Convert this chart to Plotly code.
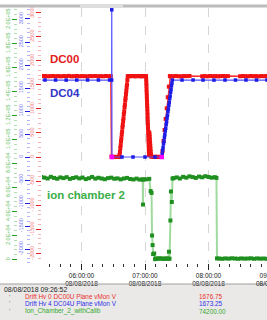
import pandas as pd
import plotly.graph_objects as go

DAY = "2018-08-08 "

# ---------------- data ----------------
dc00_time = [
    "05:22:00", "05:23:00", "05:25:30", "05:28:00", "05:30:30", "05:33:00", "05:35:30", "05:38:00",
    "05:40:30", "05:43:00", "05:45:30", "05:48:00", "05:50:30", "05:53:00", "05:55:30", "05:58:00",
    "06:00:30", "06:03:00", "06:05:30", "06:08:00", "06:10:30", "06:13:00", "06:15:30", "06:18:00",
    "06:20:30", "06:23:00", "06:25:30", "06:27:40",
    "06:28:20", "06:29:45", "06:31:15", "06:32:45", "06:34:15", "06:35:20",
    "06:35:40", "06:36:00", "06:36:20", "06:36:40", "06:37:00", "06:37:20", "06:37:40", "06:38:00",
    "06:38:20", "06:38:40", "06:39:00", "06:39:20", "06:39:40", "06:40:00", "06:40:20", "06:40:40",
    "06:41:00", "06:41:20", "06:41:40", "06:42:00", "06:42:20", "06:42:40", "06:43:00", "06:43:20",
    "06:43:40",
    "06:44:30", "06:46:00", "06:47:30", "06:49:00", "06:50:30", "06:52:00", "06:53:30", "06:55:00",
    "06:56:30", "06:58:00", "06:59:30", "07:00:40",
    "07:01:00", "07:01:07", "07:01:14", "07:01:21", "07:01:28", "07:01:35", "07:01:42", "07:01:49",
    "07:01:56", "07:02:03", "07:02:10", "07:02:17", "07:02:24", "07:02:31", "07:02:38", "07:02:45",
    "07:02:52", "07:02:59", "07:03:06", "07:03:13", "07:03:20", "07:03:27", "07:03:34", "07:03:41",
    "07:03:48",
    "07:04:00", "07:04:12", "07:04:24", "07:04:36", "07:04:48", "07:05:00", "07:05:12", "07:05:24",
    "07:05:36", "07:05:48",
    "07:07:00", "07:08:30", "07:10:00", "07:11:30", "07:13:00", "07:14:30", "07:15:40",
    "07:16:30", "07:17:30", "07:18:30", "07:19:30", "07:20:30", "07:21:30", "07:22:30", "07:23:30",
    "07:24:00", "07:26:30", "07:29:00", "07:31:30", "07:34:00", "07:36:30", "07:39:00", "07:42:00",
    "07:54:00", "07:56:30", "07:59:00", "08:01:30", "08:04:00", "08:06:30", "08:09:00", "08:11:00",
    "08:13:50", "08:16:00", "08:18:20",
    "08:29:50", "08:32:20", "08:34:50", "08:37:20", "08:39:50", "08:42:20", "08:44:50", "08:47:20",
    "08:49:50", "08:52:20", "08:54:50", "08:57:00",
]
dc00_val = [
    1678, 1676, 1680, 1674, 1677, 1681, 1675, 1678,
    1673, 1679, 1676, 1682, 1674, 1677, 1680, 1675,
    1678, 1676, 1673, 1679, 1677, 1681, 1675, 1678,
    1674, 1680, 1676, 1677,
    8, 2, 0, 5, 0, 3,
    6, 45, 105, 185, 245, 325, 385, 465,
    525, 610, 665, 745, 805, 890, 945, 1030,
    1085, 1170, 1225, 1305, 1370, 1445, 1505, 1595,
    1676,
    1679, 1675, 1678, 1681, 1674, 1677, 1680, 1676,
    1673, 1679, 1677, 1675,
    1676, 1610, 1540, 1475, 1400, 1335, 1265, 1200,
    1130, 1060, 995, 925, 860, 790, 720, 655,
    585, 515, 450, 380, 315, 245, 175, 110,
    40,
    510, 470, 420, 360, 300, 235, 170, 110,
    50, 10,
    4, 0, 6, 2, 0, 5, 1,
    120, 330, 560, 790, 1010, 1240, 1460, 1676,
    1678, 1675, 1680, 1676, 1673, 1679, 1677, 1681,
    1675, 1678, 1674, 1680, 1676, 1679, 1673, 1677,
    1680, 1676, 1678,
    1675, 1679, 1677, 1674, 1680, 1676, 1678, 1673,
    1679, 1676, 1681, 1677,
]

dc04_time = [
    "05:20:00", "05:25:30", "05:35:30", "05:45:30", "05:55:30", "06:05:45", "06:16:00", "06:26:30",
    "06:28:30", "06:28:35", "06:28:45",
    "06:38:15", "06:48:40", "07:00:00", "07:09:25",
    "07:15:50",
    "07:16:15", "07:16:40", "07:17:05", "07:17:30", "07:17:55", "07:18:20", "07:18:45", "07:19:10",
    "07:19:35", "07:20:00", "07:20:25", "07:20:50", "07:21:15", "07:21:40", "07:22:05", "07:22:30",
    "07:22:55", "07:23:20", "07:23:45", "07:24:10", "07:24:35", "07:25:00", "07:25:25", "07:25:50",
    "07:35:00", "07:45:25", "07:54:50", "08:05:10", "08:15:35", "08:25:30", "08:35:25", "08:45:20",
    "08:55:15", "09:05:00",
]
dc04_val = [
    1673, 1674, 1673, 1672, 1673, 1674, 1673, 1673,
    1673, 3200, 0,
    0, 0, 0, 0,
    0,
    65, 145, 205, 285, 345, 425, 485, 565,
    625, 705, 765, 845, 905, 985, 1045, 1125,
    1185, 1265, 1325, 1405, 1465, 1545, 1605, 1673,
    1673, 1674, 1673, 1672, 1673, 1673, 1674, 1673,
    1673, 1673,
]

overlap_time = ["06:28:45", "07:15:50"]
overlap_val = [0, 0]

ion_time = [
    "05:22:00", "05:25:00", "05:28:00", "05:31:00", "05:34:00", "05:37:00", "05:40:00", "05:43:00",
    "05:46:00", "05:49:00", "05:52:00", "05:55:00", "05:58:00", "06:01:00", "06:04:00", "06:07:00",
    "06:10:00", "06:13:00", "06:16:00", "06:19:00", "06:22:00", "06:25:00", "06:28:00", "06:31:00",
    "06:34:00", "06:37:00", "06:40:00", "06:43:00", "06:46:00", "06:49:00", "06:52:00", "06:55:00",
    "06:57:50", "06:58:05", "06:58:20", "07:01:00", "07:04:00",
    "07:05:20", "07:06:10", "07:06:40", "07:07:10", "07:07:40", "07:08:40", "07:09:30",
    "07:10:30", "07:12:00", "07:13:30", "07:15:00", "07:16:30", "07:18:00", "07:19:30", "07:21:00",
    "07:22:00",
    "07:22:40", "07:23:10",
    "07:24:00", "07:24:30", "07:25:20", "07:26:00",
    "07:27:00", "07:30:00", "07:33:00", "07:36:00", "07:39:00", "07:42:00", "07:45:00", "07:48:00",
    "07:51:00", "07:54:00", "07:57:00", "08:00:00", "08:03:00", "08:06:00",
    "08:07:30", "08:08:00",
    "08:10:00", "08:13:00", "08:16:00", "08:19:00", "08:22:00", "08:25:00", "08:28:00", "08:31:00",
    "08:34:00", "08:37:00", "08:40:00", "08:43:00", "08:46:00", "08:49:00", "08:52:00", "08:55:00",
    "08:58:00",
]
ion_val = [
    68700, 68200, 67500, 68900, 68000, 67300, 68400, 67800,
    68600, 67200, 67900, 68500, 67600, 68300, 67000, 67700,
    68800, 67400, 68100, 67500, 66900, 67800, 68200, 67300,
    67600, 66800, 67500, 68000, 67100, 66700, 67400, 66600,
    66900, 45800, 66500, 66800, 67200,
    57000, 55500, 20000, 12000, 4500, 5000, 300,
    900, 600, 1000, 700, 800, 500, 900, 700,
    600,
    6500, 700,
    32500, 56700, 47900, 67500,
    67800, 68400, 67500, 68900, 68200, 69300, 68700, 68000,
    69100, 68500, 69400, 68800, 68200, 68600,
    68000, 900,
    800, 600, 900, 700, 1000, 800, 600, 900,
    700, 800, 1000, 600, 900, 700, 800, 600,
    900,
]

red_ticks = [-2000, -1500, -1000, -500, 0, 500, 1000, 1500, 2000, 2500, 3000]
blue_ticks = [-2000, -1500, -1000, -500, 0, 500, 1000, 1500, 2000, 2500, 3000]
green_ticks = [0, 20000, 40000, 60000, 80000, 100000, 120000, 140000, 160000, 180000, 200000]
green_tick_text = ["0", "2.0E+04", "4.0E+04", "6.0E+04", "8.0E+04", "1.0E+05",
                   "1.2E+05", "1.4E+05", "1.6E+05", "1.8E+05", "2.0E+05"]

series_labels = ["DC00", "DC04", "ion chamber 2"]
legend_stamp = "08/08/2018 09:26:52"
legend_names = ["Drift Hv 0 DC00U Plane vMon V", "Drift Hv 4 DC04U Plane vMon V", "Ion_Chamber_2_withCalib"]
legend_values = ["1676.75", "1673.25", "74200.00"]

x_start = pd.Timestamp(DAY + "05:22:40")
x_end = pd.Timestamp(DAY + "08:55:16")
cut_tick = pd.Timestamp(DAY + "09:00:00")

RED, GREEN = "#e41c1c", "#1f8f1f"
FONT = "Liberation Sans"

W, H = 267, 320
L_PX, T_PX, B_PX = 42, 8, 263


def ts(lst):
    return pd.to_datetime([DAY + t for t in lst])


def px_x(px):
    return px / W


def px_y(py):
    return (B_PX - py) / (B_PX - T_PX)


fig = go.Figure()
fig.add_trace(go.Scatter(
    x=ts(ion_time), y=ion_val, yaxis="y3", mode="lines+markers",
    line=dict(color="rgba(80,190,80,0.55)", width=2),
    marker=dict(color=GREEN, size=4, symbol="square", line=dict(width=0)),
))
fig.add_trace(go.Scatter(
    x=ts(dc00_time), y=dc00_val, yaxis="y", mode="lines+markers",
    line=dict(color="#ff3030", width=1.5),
    marker=dict(color="#f01212", size=4, symbol="square", line=dict(width=0)),
))
fig.add_trace(go.Scatter(
    x=ts(dc04_time), y=dc04_val, yaxis="y2", mode="lines+markers",
    line=dict(color="#5050ff", width=1.2),
    marker=dict(color="#1c1ce6", size=3.5, symbol="square", line=dict(width=0)),
))
fig.add_trace(go.Scatter(
    x=ts(overlap_time), y=overlap_val, yaxis="y2", mode="markers",
    marker=dict(color="#ff00ff", size=4.5, symbol="square", line=dict(width=0)),
))


def yaxis_cfg(rng, vals, text, tickcol, labcol, mincol, dminor):
    return dict(
        range=rng, tickmode="array", tickvals=vals, ticktext=text,
        ticks="outside", ticklen=5, tickwidth=1, tickcolor=tickcol,
        tickfont=dict(size=5.5, color=labcol, family=FONT), tickangle=-90,
        showgrid=False, zeroline=False, showline=False, automargin=False,
        minor=dict(tickmode="linear", tick0=0, dtick=dminor, ticks="outside",
                   ticklen=3, tickcolor=mincol, showgrid=False),
    )


ya = yaxis_cfg([-2199, 3091], red_ticks, [str(v) for v in red_ticks],
               "#e82020", "#f07878", "#f6b4b4", 100)
yb = yaxis_cfg([-2304, 3239], blue_ticks, [str(v) for v in blue_ticks],
               "#2020e0", "#7878f0", "#b4b4f6", 100)
yb.update(overlaying="y", anchor="free", position=30 / W, side="left")
yg = yaxis_cfg([-2917, 209583], green_ticks, green_tick_text,
               "#20a020", "#66c066", "#b0e0b0", 4000)
yg.update(overlaying="y", anchor="free", position=17 / W, side="left")

fig.update_layout(
    template="none",
    width=W, height=H,
    margin=dict(l=0, r=0, t=T_PX, b=H - B_PX, pad=0),
    paper_bgcolor="white", plot_bgcolor="white",
    showlegend=False,
    font=dict(family=FONT, size=7, color="#222"),
    xaxis=dict(
        domain=[L_PX / W, 1], type="date", range=[x_start, x_end],
        tick0=DAY + "00:00:00", dtick=3600000,
        tickformat="%H:%M:%S<br>%d/%m/%Y",
        ticks="outside", ticklen=6, tickwidth=1, tickcolor="#222",
        tickfont=dict(size=6.5, color="#222", family=FONT),
        showgrid=True, gridcolor="#d6d6d6", griddash="dash", gridwidth=1,
        zeroline=False, showline=False, automargin=False,
        minor=dict(dtick=600000, ticks="outside", ticklen=3, tickcolor="#333", showgrid=False),
    ),
    yaxis=ya, yaxis2=yb, yaxis3=yg,
)

# plot labels
lab_cols = [RED, "#3434c8", "#3cae48"]
lab_pos = [(48, 59), (48, 93), (45, 195)]
for text, col, (px, py) in zip(series_labels, lab_cols, lab_pos):
    fig.add_annotation(text=text, xref="paper", yref="paper", x=px_x(px), y=px_y(py),
                       xanchor="left", yanchor="middle", showarrow=False,
                       font=dict(size=11.5, color=col, family=FONT, weight="bold"))

# 09:00 tick label cut off at the right edge
frac = (cut_tick - x_start) / (x_end - x_start)
fig.add_annotation(text=cut_tick.strftime("%H:%M:%S<br>%d/%m/%Y"), xref="paper", yref="paper",
                   x=(L_PX + frac * (W - L_PX)) / W, y=px_y(269.5), xanchor="center", yanchor="top",
                   showarrow=False, font=dict(size=6.5, color="#222", family=FONT))

# top bar
fig.add_shape(type="rect", xref="paper", yref="paper", x0=0, x1=1, y0=px_y(7.5), y1=px_y(4.5),
              fillcolor="#bcbcbc", line=dict(width=0))
fig.add_shape(type="rect", xref="paper", yref="paper", x0=px_x(80), x1=px_x(123),
              y0=px_y(7), y1=px_y(5), fillcolor="#dedede", line=dict(width=0))

# bottom value panel
fig.add_shape(type="rect", xref="paper", yref="paper", x0=0, x1=1, y0=px_y(322), y1=px_y(284),
              fillcolor="#ebe9e7", line=dict(width=0), layer="below")
fig.add_shape(type="line", xref="paper", yref="paper", x0=0, x1=1, y0=px_y(284), y1=px_y(284),
              line=dict(color="#a0a0a0", width=1))
fig.add_annotation(text=legend_stamp, xref="paper", yref="paper", x=px_x(2), y=px_y(289.5),
                   xanchor="left", yanchor="middle", showarrow=False,
                   font=dict(size=6.9, color="#222", family=FONT))
row_cols = ["#e83030", "#3030e8", "#30a830"]
row_y = [296.5, 303.5, 311]
for name, val, col, py in zip(legend_names, legend_values, row_cols, row_y):
    fig.add_annotation(text="'", xref="paper", yref="paper", x=px_x(7), y=px_y(py),
                       xanchor="left", yanchor="middle", showarrow=False,
                       font=dict(size=6, color="#555", family=FONT))
    fig.add_annotation(text=name, xref="paper", yref="paper", x=px_x(23), y=px_y(py),
                       xanchor="left", yanchor="middle", showarrow=False,
                       font=dict(size=6.4, color=col, family=FONT))
    fig.add_annotation(text=val, xref="paper", yref="paper", x=px_x(197), y=px_y(py),
                       xanchor="left", yanchor="middle", showarrow=False,
                       font=dict(size=6.4, color=col, family=FONT))

fig.write_html(
    "out.html",
    config={"displayModeBar": False},
    post_script="document.body.style.margin='0';document.body.style.padding='0';"
                "document.body.style.overflow='hidden';",
)
